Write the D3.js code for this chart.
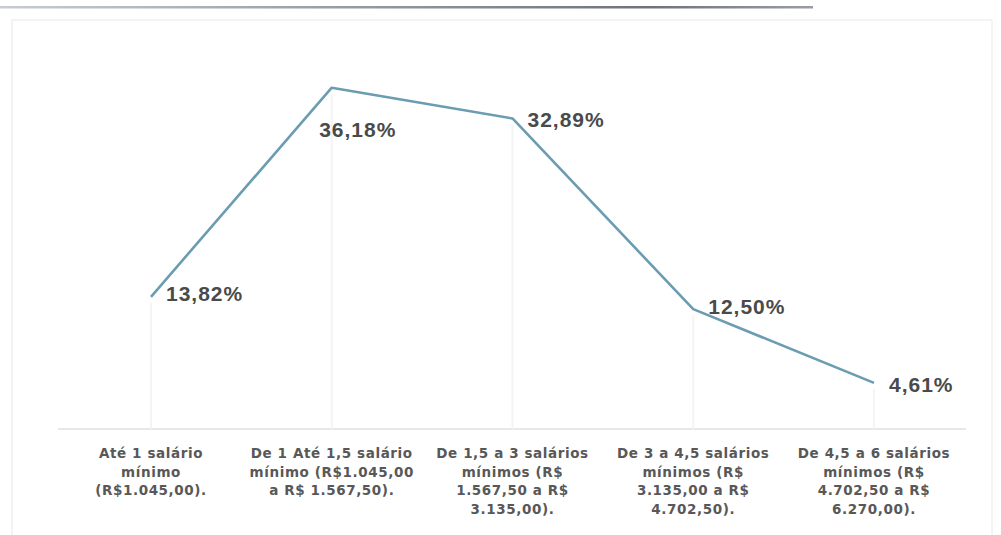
<!DOCTYPE html>
<html>
<head>
<meta charset="utf-8">
<script src="https://cdn.jsdelivr.net/npm/d3@7"></script>
<style>
  html, body { margin: 0; padding: 0; background: #fff; }
  svg { display: block; }
</style>
</head>
<body>
<svg id="chart" width="1001" height="535"></svg>
<script>
// ---- data ----
const categories = [
  "Até 1 salário mínimo (R$1.045,00).",
  "De 1 Até 1,5 salário mínimo (R$1.045,00 a R$ 1.567,50).",
  "De 1,5 a 3 salários mínimos (R$ 1.567,50 a R$ 3.135,00).",
  "De 3 a 4,5 salários mínimos (R$ 3.135,00 a R$ 4.702,50).",
  "De 4,5 a 6 salários mínimos (R$ 4.702,50 a R$ 6.270,00)."
];
const categoryLines = [
  ["Até 1 salário", "mínimo", "(R$1.045,00)."],
  ["De 1 Até 1,5 salário", "mínimo  (R$1.045,00", "a R$ 1.567,50)."],
  ["De 1,5 a 3 salários", "mínimos  (R$", "1.567,50 a R$", "3.135,00)."],
  ["De 3 a 4,5 salários", "mínimos  (R$", "3.135,00 a R$", "4.702,50)."],
  ["De 4,5 a 6 salários", "mínimos  (R$", "4.702,50 a R$", "6.270,00)."]
];
const values = [13.82, 36.18, 32.89, 12.50, 4.61];
const valueLabels = ["13,82%", "36,18%", "32,89%", "12,50%", "4,61%"];

// ---- layout (label placement relative to each point) ----
const labelOffsets = [[15, -3, "start"], [26, 42, "middle"], [15, 1, "start"], [15, -3, "start"], [15, 2, "start"]];

const svg = d3.select("#chart");

// scanned page edges
const grad = svg.append("defs").append("linearGradient").attr("id", "edge")
  .attr("x1", "0%").attr("x2", "100%");
grad.append("stop").attr("offset", "0%").attr("stop-color", "#c8ccd0");
grad.append("stop").attr("offset", "35%").attr("stop-color", "#9ea4aa");
grad.append("stop").attr("offset", "80%").attr("stop-color", "#6f7377");
grad.append("stop").attr("offset", "100%").attr("stop-color", "#9a9ea2");
svg.append("rect").attr("x", 0).attr("y", 6).attr("width", 813).attr("height", 2.5).attr("fill", "url(#edge)");
svg.append("rect").attr("x", 12).attr("y", 20).attr("width", 980).attr("height", 530)
  .attr("fill", "none").attr("stroke", "#f0f0f0").attr("stroke-width", 1.5);

const x = d3.scalePoint().domain(categories).range([151, 874]);
const y = d3.scaleLinear().domain([0, 40]).range([426, 52]);

// baseline
svg.append("line").attr("x1", 58).attr("x2", 966).attr("y1", 429).attr("y2", 429)
  .attr("stroke", "#e8e8e8").attr("stroke-width", 2);

// faint drop lines
svg.append("g").selectAll("line").data(categories).join("line")
  .attr("x1", d => x(d)).attr("x2", d => x(d))
  .attr("y1", (d, i) => y(values[i]) + 6).attr("y2", 429)
  .attr("stroke", "#f4f4f4").attr("stroke-width", 2);

// line
const line = d3.line().x((d, i) => x(categories[i])).y(d => y(d));
svg.append("path").datum(values).attr("d", line)
  .attr("fill", "none").attr("stroke", "#6a9cb2").attr("stroke-width", 2.6)
  .attr("stroke-linejoin", "round");

// value labels
svg.append("g").selectAll("text").data(values).join("text")
  .attr("x", (d, i) => x(categories[i]) + labelOffsets[i][0])
  .attr("y", (d, i) => y(d) + labelOffsets[i][1])
  .attr("dy", "0.36em")
  .attr("text-anchor", (d, i) => labelOffsets[i][2])
  .attr("font-family", "Liberation Sans, Arial, sans-serif")
  .attr("font-weight", "bold")
  .attr("font-size", 21)
  .attr("letter-spacing", "1px")
  .attr("fill", "#4a4a4a")
  .text((d, i) => valueLabels[i]);

// category labels
const cat = svg.append("g").selectAll("text").data(categories).join("text")
  .attr("x", d => x(d))
  .attr("text-anchor", "middle")
  .attr("font-family", "DejaVu Sans, Verdana, sans-serif")
  .attr("font-weight", "bold")
  .attr("font-size", 13.5)
  .attr("letter-spacing", "0.6px")
  .attr("fill", "#585858");
cat.each(function(d, i) {
  const t = d3.select(this);
  categoryLines[i].forEach((ln, j) => {
    t.append("tspan").attr("x", x(d)).attr("y", 458 + j * 18.5).text(ln);
  });
});
</script>
</body>
</html>
